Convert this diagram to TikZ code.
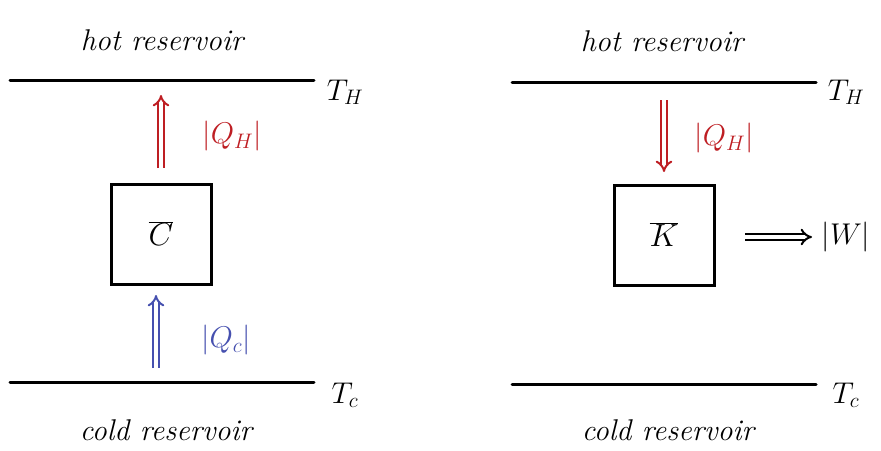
\RequirePackage{fix-cm}
\documentclass[tikz,border=0pt]{standalone}
\usetikzlibrary{arrows.meta}
\definecolor{hotred}{RGB}{190,30,35}
\definecolor{coldblue}{RGB}{70,80,175}
\begin{document}
\begin{tikzpicture}[x=1pt,y=-1pt,
  reservoir/.style={line width=3pt,line cap=round},
  engine/.style={draw,line width=3pt,minimum width=100pt,minimum height=100pt,inner sep=0pt,font=\fontsize{32}{36}\selectfont},
  lbl/.style={font=\fontsize{30}{34}\selectfont\itshape},
  temp/.style={font=\fontsize{30}{34}\selectfont},
  flow/.style={double,double distance=3.5pt,line width=2pt,-{Implies[length=10pt]}},
  qlbl/.style={font=\fontsize{30}{34}\selectfont}]
\useasboundingbox (0,0) rectangle (881,450);
% left: refrigerator
\coordinate (lh1) at (10,80); \coordinate (lh2) at (314,80);
\coordinate (lc1) at (10,382); \coordinate (lc2) at (314,382);
\draw[reservoir] (lh1) -- (lh2);
\draw[reservoir] (lc1) -- (lc2);
\node[lbl] (lhot) at (162,40) {hot reservoir};
\node[lbl] (lcold) at (166,430) {cold reservoir};
\node[temp] (lTH) at (345,92) {$T_H$};
\node[temp] (lTC) at (345,395) {$T_c$};
\node[engine] (C) at (161,234) {$\overline{C}$};
\coordinate (la1) at (161,168); \coordinate (la2) at (161,95);
\draw[flow,hotred] (la1) -- (la2);
\node[qlbl,text=hotred] (lQH) at (232,136) {$|Q_H|$};
\coordinate (lb1) at (156,368); \coordinate (lb2) at (156,295);
\draw[flow,coldblue] (lb1) -- (lb2);
\node[qlbl,text=coldblue] (lQC) at (226,340) {$|Q_c|$};
% right: engine
\coordinate (rh1) at (512,82); \coordinate (rh2) at (816,82);
\coordinate (rc1) at (512,384); \coordinate (rc2) at (816,384);
\draw[reservoir] (rh1) -- (rh2);
\draw[reservoir] (rc1) -- (rc2);
\node[lbl] (rhot) at (662,41) {hot reservoir};
\node[lbl] (rcold) at (668,430) {cold reservoir};
\node[temp] (rTH) at (846,92) {$T_H$};
\node[temp] (rTC) at (846,395) {$T_c$};
\node[engine] (K) at (664,235) {$\overline{K}$};
\coordinate (ra1) at (664,100); \coordinate (ra2) at (664,172);
\draw[flow,hotred] (ra1) -- (ra2);
\node[qlbl,text=hotred] (rQH) at (724,138) {$|Q_H|$};
\coordinate (rw1) at (745,237); \coordinate (rw2) at (812,237);
\draw[flow,black] (rw1) -- (rw2);
\node[qlbl] (W) at (846,237) {$|W|$};
\end{tikzpicture}
\end{document}
